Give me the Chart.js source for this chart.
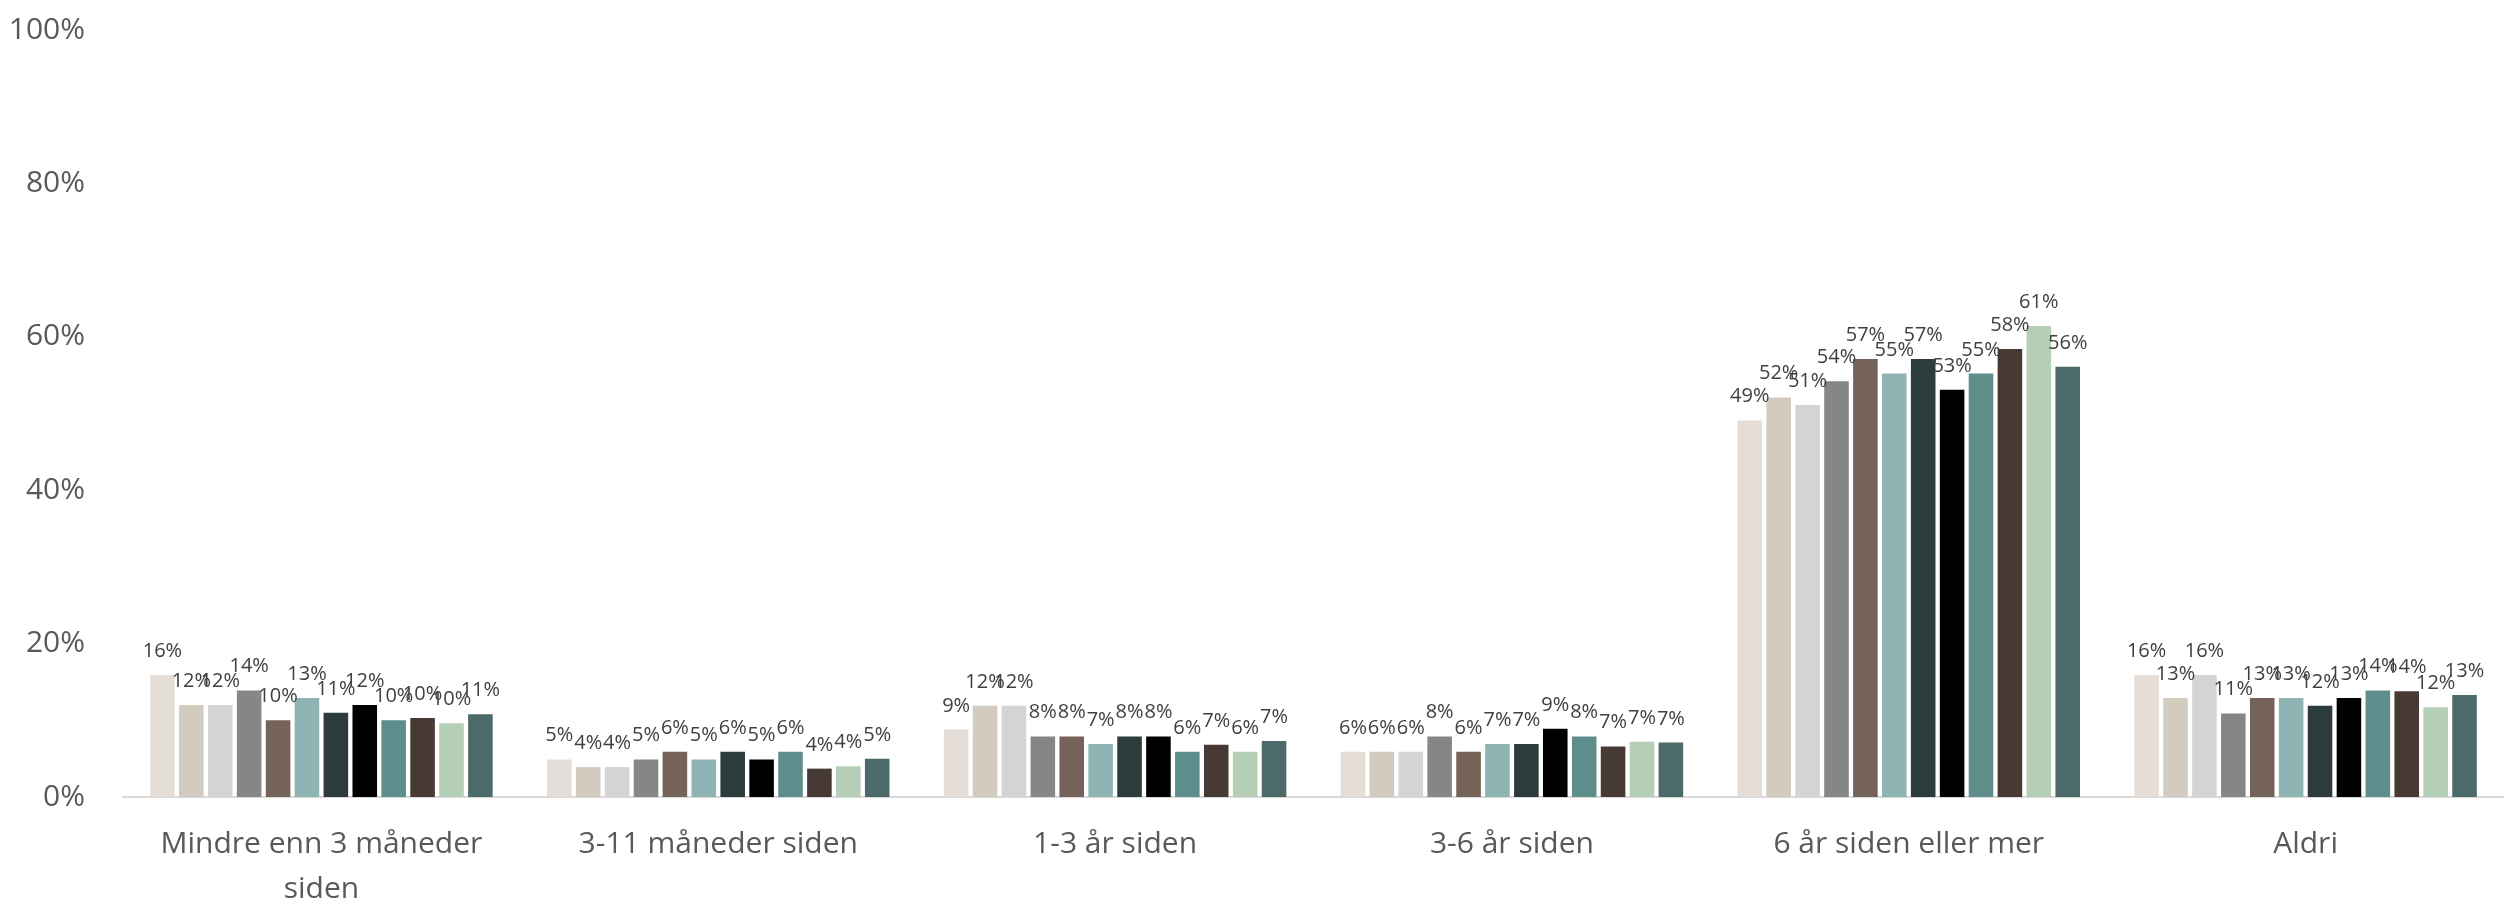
<!DOCTYPE html>
<html lang="no">
<head>
<meta charset="utf-8">
<title>Sist gang</title>
<script src="https://cdn.jsdelivr.net/npm/chart.js@4.4.1/dist/chart.umd.min.js"></script>
<style>
  html, body { margin: 0; padding: 0; background: #fff; }
  #wrap { width: 2504px; height: 904px; position: relative; }
</style>
</head>
<body>
<div id="wrap"><canvas id="chart"></canvas></div>
<script>
/* ── Data ────────────────────────────────────── */
const categories = [
  ['Mindre enn 3 måneder', 'siden'],
  '3-11 måneder siden',
  '1-3 år siden',
  '3-6 år siden',
  '6 år siden eller mer',
  'Aldri'
];
const yTicks = [0, 20, 40, 60, 80, 100];

const seriesNames  = ['Serie 1', 'Serie 2', 'Serie 3', 'Serie 4', 'Serie 5', 'Serie 6',
                      'Serie 7', 'Serie 8', 'Serie 9', 'Serie 10', 'Serie 11', 'Serie 12'];
const seriesColors = ['#E5DDD7', '#D4CBC0', '#D4D4D4', '#868686', '#756259', '#8EB4B4',
                      '#2C3B3B', '#000000', '#5E8E8C', '#473934', '#B4CFB6', '#4B6A69'];

const s1  = [15.9, 4.9,  8.8, 5.9, 49.1, 15.9];
const s2  = [12.0, 3.9, 11.9, 5.9, 52.1, 12.9];
const s3  = [12.0, 3.9, 11.9, 5.9, 51.1, 15.9];
const s4  = [13.9, 4.9,  7.9, 7.9, 54.2, 10.9];
const s5  = [10.0, 5.9,  7.9, 5.9, 57.1, 12.9];
const s6  = [12.9, 4.9,  6.9, 6.9, 55.2, 12.9];
const s7  = [11.0, 5.9,  7.9, 6.9, 57.1, 11.9];
const s8  = [12.0, 4.9,  7.9, 8.9, 53.1, 12.9];
const s9  = [10.0, 5.9,  5.9, 7.9, 55.2, 13.9];
const s10 = [10.3, 3.7,  6.8, 6.6, 58.4, 13.8];
const s11 = [ 9.6, 4.0,  5.9, 7.2, 61.4, 11.7];
const s12 = [10.8, 5.0,  7.3, 7.1, 56.1, 13.3];
const seriesValues = [s1, s2, s3, s4, s5, s6, s7, s8, s9, s10, s11, s12];

const FONT = "'Open Sans', 'Noto Sans', sans-serif";

// value labels above each bar (no datalabels plugin offline)
const barLabels = {
  id: 'barLabels',
  afterDatasetsDraw(chart) {
    const { ctx } = chart;
    ctx.save();
    ctx.font = `400 20px ${FONT}`;
    ctx.fillStyle = '#404040';
    ctx.textAlign = 'center';
    ctx.textBaseline = 'alphabetic';
    chart.data.datasets.forEach((ds, i) => {
      chart.getDatasetMeta(i).data.forEach((bar, j) => {
        ctx.fillText(Math.round(ds.data[j]) + '%', bar.x, bar.y - 18);
      });
    });
    ctx.restore();
  }
};

new Chart(document.getElementById('chart'), {
  type: 'bar',
  data: {
    labels: categories,
    datasets: seriesValues.map((vals, i) => ({
      label: seriesNames[i],
      data: vals,
      backgroundColor: seriesColors[i],
      borderWidth: 0,
      categoryPercentage: 0.874,
      barPercentage: 0.85,
    }))
  },
  options: {
    responsive: true,
    maintainAspectRatio: false,
    animation: false,
    layout: { padding: { top: 30, left: 0, right: 0, bottom: 0 } },
    plugins: { legend: { display: false }, tooltip: { enabled: false } },
    scales: {
      x: {
        grid: { display: false, drawTicks: false },
        border: { display: true, color: '#D9D9D9', width: 2 },
        ticks: {
          color: '#595959', padding: 25, maxRotation: 0, autoSkip: false,
          font: { family: FONT, size: 30, lineHeight: 1.5 }
        },
        afterFit: s => { s.height = 107; }
      },
      y: {
        min: 0, max: 100,
        grid: { display: false, drawTicks: false },
        border: { display: false },
        afterBuildTicks: s => { s.ticks = yTicks.map(v => ({ value: v })); },
        ticks: {
          color: '#595959', padding: 38,
          font: { family: FONT, size: 30 },
          callback: v => v + '%'
        },
        // fixed axis width; the tick padding must not push the plot top down
        afterFit: s => { s.width = 123; s.paddingTop = 0; s.paddingBottom = 0; }
      }
    }
  },
  plugins: [barLabels]
});
</script>
</body>
</html>
